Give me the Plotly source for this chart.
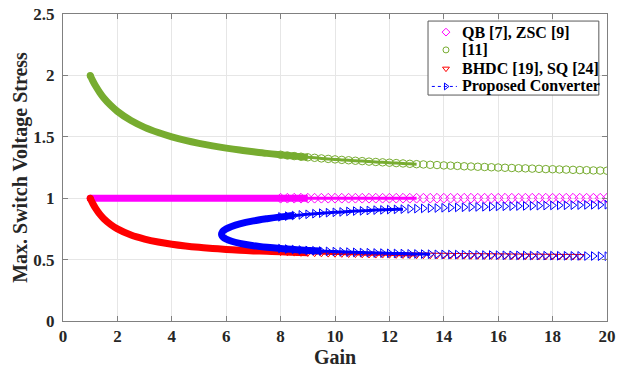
import plotly.graph_objects as go

# Gain samples: coarse near the start, finer where the markers separate
gain_low = [1.0, 1.1, 1.2, 1.35, 1.5, 1.75, 2.0, 2.5, 3.0, 3.5, 4.0, 4.5, 5.0, 5.5,
            6.0, 6.5, 7.0, 7.5]
gain_high = [8.0, 8.25, 8.5, 8.75, 9.0, 9.25, 9.5, 9.75, 10.0, 10.25, 10.5, 10.75,
             11.0, 11.25, 11.5, 11.75, 12.0, 12.25, 12.5, 12.75, 13.0, 13.25, 13.5,
             13.75, 14.0, 14.25, 14.5, 14.75, 15.0, 15.25, 15.5, 15.75, 16.0, 16.25,
             16.5, 16.75, 17.0, 17.25, 17.5, 17.75, 18.0, 18.25, 18.5, 18.75, 19.0,
             19.25, 19.5, 19.75, 20.0]
gain = gain_low + gain_high

# QB [7], ZSC [9]
stress_qb = [1.0] * len(gain)

# [11]
stress_ref11 = [2.000, 1.953, 1.913, 1.861, 1.816, 1.756, 1.707, 1.632, 1.577, 1.535,
                1.500, 1.471, 1.447, 1.426, 1.408, 1.392, 1.378, 1.365,
                1.354, 1.348, 1.343, 1.338, 1.333, 1.329, 1.324, 1.320, 1.316, 1.312,
                1.309, 1.305, 1.302, 1.298, 1.295, 1.292, 1.289, 1.286, 1.283, 1.280,
                1.277, 1.275, 1.272, 1.270, 1.267, 1.265, 1.263, 1.260, 1.258, 1.256,
                1.254, 1.252, 1.250, 1.248, 1.246, 1.244, 1.243, 1.241, 1.239, 1.237,
                1.236, 1.234, 1.233, 1.231, 1.229, 1.228, 1.226, 1.225, 1.224]

# BHDC [19], SQ [24] (ends at a gain of 19)
stress_bhdc = [1.000, 0.955, 0.917, 0.870, 0.833, 0.786, 0.750, 0.700, 0.667, 0.643,
               0.625, 0.611, 0.600, 0.591, 0.583, 0.577, 0.571, 0.567,
               0.563, 0.561, 0.559, 0.557, 0.556, 0.554, 0.553, 0.551, 0.550, 0.549,
               0.548, 0.547, 0.545, 0.544, 0.543, 0.543, 0.542, 0.541, 0.540, 0.539,
               0.538, 0.538, 0.537, 0.536, 0.536, 0.535, 0.534, 0.534, 0.533, 0.533,
               0.532, 0.532, 0.531, 0.531, 0.530, 0.530, 0.529, 0.529, 0.529, 0.528,
               0.528, 0.527, 0.527, 0.527, 0.526]
gain_bhdc = gain[:len(stress_bhdc)]

# Proposed converter: two branches meeting at the minimum gain
gain_prop_low = [5.828, 5.85, 5.9, 6.0, 6.2, 6.5, 7.0, 7.5]
gain_prop = gain_prop_low + gain_high
stress_prop_upper = [0.707, 0.722, 0.735, 0.750, 0.770, 0.791, 0.815, 0.833,
                     0.848, 0.854, 0.859, 0.864, 0.869, 0.874, 0.878, 0.882, 0.885,
                     0.888, 0.892, 0.895, 0.897, 0.900, 0.903, 0.905, 0.907, 0.909,
                     0.911, 0.913, 0.915, 0.917, 0.919, 0.920, 0.922, 0.923, 0.925,
                     0.926, 0.928, 0.929, 0.930, 0.931, 0.933, 0.934, 0.935, 0.936,
                     0.937, 0.938, 0.939, 0.940, 0.941, 0.942, 0.942, 0.943, 0.944,
                     0.945, 0.946, 0.946, 0.947]
stress_prop_lower = [0.707, 0.692, 0.680, 0.667, 0.649, 0.632, 0.613, 0.600,
                     0.590, 0.586, 0.582, 0.578, 0.575, 0.572, 0.570, 0.567, 0.565,
                     0.563, 0.561, 0.559, 0.557, 0.556, 0.554, 0.553, 0.551, 0.550,
                     0.549, 0.547, 0.546, 0.545, 0.544, 0.543, 0.542, 0.541, 0.541,
                     0.540, 0.539, 0.538, 0.537, 0.537, 0.536, 0.535, 0.535, 0.534,
                     0.534, 0.533, 0.533, 0.532, 0.532, 0.531, 0.531, 0.530, 0.530,
                     0.529, 0.529, 0.528, 0.528]

series_names = ["QB [7], ZSC [9]", "[11]", "BHDC [19], SQ [24]", "Proposed Converter"]
series_colors = ["#FF00FF", "#77AC30", "#FF0000", "#0000FF"]
series_symbols = ["diamond-open", "circle-open", "triangle-down-open",
                  "triangle-right-open"]

FONT = "Liberation Serif"
TEXT_COLOR = "#262626"
MARKER_SIZE = 7.5
MARKERS_FROM = 8.0  # below this gain the markers merge into a solid band

fig = go.Figure()


def line_trace(pts, width, color, cap=False):
    fig.add_trace(go.Scatter(x=[p[0] for p in pts], y=[p[1] for p in pts],
                             mode="lines", showlegend=False, hoverinfo="skip",
                             line=dict(color=color, width=width, shape="spline",
                                       smoothing=1.0)))
    if cap:
        # rounded end where the dense run of markers begins
        fig.add_trace(go.Scatter(x=[pts[0][0]], y=[pts[0][1]], mode="markers",
                                 showlegend=False, hoverinfo="skip",
                                 marker=dict(symbol="circle", size=width,
                                             color=color, line=dict(width=0))))


def marker_trace(pts, name, color, symbol):
    fig.add_trace(go.Scatter(x=[p[0] for p in pts], y=[p[1] for p in pts],
                             mode="markers", name=name, showlegend=False,
                             marker=dict(symbol=symbol, size=MARKER_SIZE,
                                         color=color,
                                         line=dict(color=color, width=1))))


series = [(gain, stress_qb), (gain, stress_ref11), (gain_bhdc, stress_bhdc)]
for (xs, ys), name, color, symbol in zip(series, series_names, series_colors,
                                         series_symbols):
    pts = list(zip(xs, ys))
    line_trace([p for p in pts if p[0] <= 9.0], 7, color, cap=True)
    line_trace([p for p in pts if p[0] <= 13.0], 3, color)
    marker_trace([p for p in pts if p[0] >= MARKERS_FROM], name, color, symbol)

# Proposed converter: upper branch traced back to the tip, then the lower branch
blue = series_colors[3]
upper = list(zip(gain_prop, stress_prop_upper))
lower = list(zip(gain_prop, stress_prop_lower))
for upto, width in [(8.5, 7), (12.5, 3)]:
    up = [p for p in upper if p[0] <= upto]
    lo = [p for p in lower if p[0] <= upto + 1.0]
    line_trace(up[::-1] + lo[1:], width, blue)
marker_trace([p for p in upper if p[0] >= MARKERS_FROM][::-1] +
             [p for p in lower if p[0] >= MARKERS_FROM],
             series_names[3], blue, series_symbols[3])

# Legend, drawn on an overlay axis in paper units
leg_left, leg_right, leg_top, leg_bottom = 0.671, 0.985, 0.977, 0.736
leg_rows = [0.941, 0.883, 0.822, 0.764]
leg_sym_x = 0.704
leg_text_x = 0.730

fig.add_trace(go.Scatter(
    x=[leg_left, leg_right, leg_right, leg_left, leg_left],
    y=[leg_top, leg_top, leg_bottom, leg_bottom, leg_top],
    xaxis="x2", yaxis="y2", mode="lines", fill="toself", fillcolor="white",
    line=dict(color="#595959", width=1), showlegend=False, hoverinfo="skip"))
for i, (name, color, symbol, row) in enumerate(zip(series_names, series_colors,
                                                   series_symbols, leg_rows)):
    if i == 3:
        fig.add_trace(go.Scatter(x=[0.678, 0.724], y=[row, row], xaxis="x2",
                                 yaxis="y2", mode="lines", showlegend=False,
                                 hoverinfo="skip",
                                 line=dict(color=color, width=1, dash="dot")))
    fig.add_trace(go.Scatter(x=[leg_sym_x], y=[row], xaxis="x2", yaxis="y2",
                             mode="markers", showlegend=False, hoverinfo="skip",
                             marker=dict(symbol=symbol, size=6, color=color,
                                         line=dict(color=color, width=1))))
    fig.add_annotation(x=leg_text_x, y=row, xref="paper", yref="paper",
                       text=name, showarrow=False, xanchor="left",
                       yanchor="middle",
                       font=dict(family=FONT, size=16, color="black",
                                 weight="bold"))

axis_style = dict(
    showline=True, linecolor="#808080", linewidth=1, mirror="ticks",
    ticks="inside", ticklen=5, tickcolor="#808080", automargin=False,
    showgrid=True, gridcolor="#E6E6E6", gridwidth=1, zeroline=False,
    tickfont=dict(family=FONT, size=17, color=TEXT_COLOR, weight="bold"),
)

fig.update_layout(
    width=628, height=371,
    margin=dict(l=63, r=21, t=14, b=50),
    paper_bgcolor="white", plot_bgcolor="white",
    showlegend=False,
    xaxis=dict(range=[0, 20], dtick=2, ticklabelstandoff=0,
               title=dict(text="Gain", standoff=0,
                          font=dict(family=FONT, size=20, color=TEXT_COLOR,
                                    weight="bold")),
               **axis_style),
    yaxis=dict(range=[0, 2.5], dtick=0.5, ticklabelstandoff=4,
               title=dict(text="Max. Switch Voltage Stress", standoff=0,
                          font=dict(family=FONT, size=20, color=TEXT_COLOR,
                                    weight="bold")),
               **axis_style),
    xaxis2=dict(domain=[0, 1], range=[0, 1], overlaying="x", visible=False,
                fixedrange=True),
    yaxis2=dict(domain=[0, 1], range=[0, 1], overlaying="y", visible=False,
                fixedrange=True),
)

fig.write_html("out.html")
